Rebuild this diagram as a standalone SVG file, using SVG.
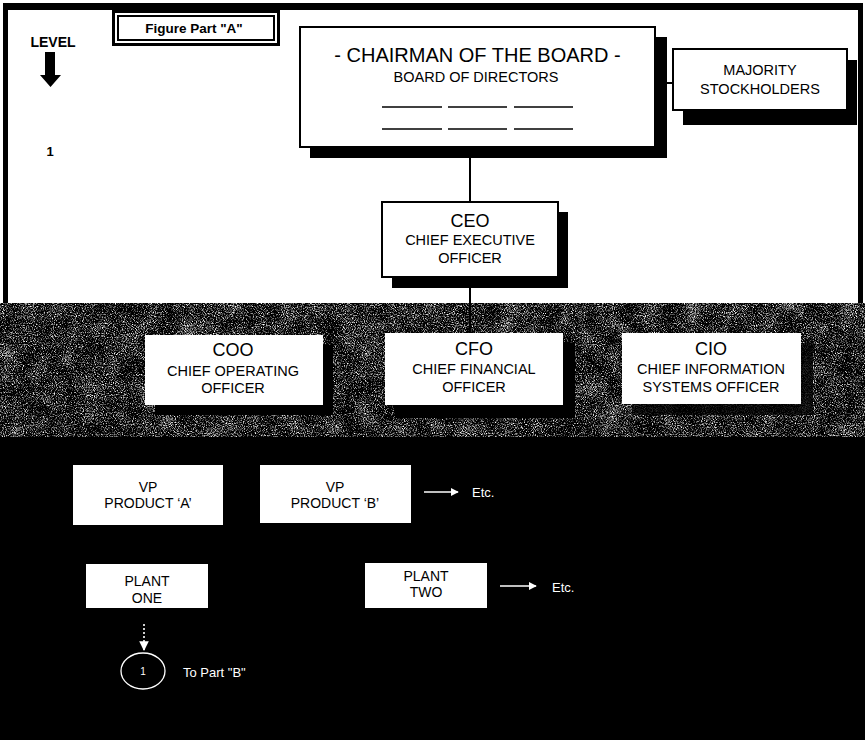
<svg xmlns="http://www.w3.org/2000/svg" width="865" height="740" viewBox="0 0 865 740">
  <defs>
    <style>
      .t{font-family:"Liberation Sans",Arial,Helvetica,sans-serif;fill:#000;text-anchor:middle}
      .w{fill:#fff}
      .box{fill:#fff;stroke:#000;stroke-width:2}
      .plain{fill:#fff}
      .shadow{fill:#000}
      .link{stroke:#000;stroke-width:2;fill:none}
      .wlink{stroke:#fff;stroke-width:1.6;fill:none}
      .big{font-size:18px}
      .mid{font-size:14.5px}
      .sm{font-size:14px}
      .etc{font-size:13px;fill:#fff;text-anchor:start}
      .bold{font-weight:bold}
    </style>
    <!-- halftone-like grain for the middle band -->
    <filter id="grain" x="0" y="0" width="1" height="1" filterUnits="objectBoundingBox" color-interpolation-filters="sRGB">
      <feTurbulence type="fractalNoise" baseFrequency="0.9" numOctaves="2" seed="7" result="fine"/>
      <feTurbulence type="fractalNoise" baseFrequency="0.05" numOctaves="2" seed="3" result="coarse"/>
      <feComposite in="fine" in2="coarse" operator="arithmetic" k1="0" k2="1" k3="0.25" k4="-0.125" result="mix"/>
      <feColorMatrix in="mix" type="matrix" values="1 0 0 0 0  1 0 0 0 0  1 0 0 0 0  0 0 0 0 1" result="gray"/>
      <feComponentTransfer in="gray">
        <feFuncR type="linear" slope="2.6" intercept="-0.86"/>
        <feFuncG type="linear" slope="2.6" intercept="-0.86"/>
        <feFuncB type="linear" slope="2.6" intercept="-0.86"/>
        <feFuncA type="linear" slope="0" intercept="1"/>
      </feComponentTransfer>
    </filter>
    <marker id="arrW" viewBox="0 0 10 10" refX="9" refY="5" markerWidth="5" markerHeight="5" orient="auto" markerUnits="strokeWidth">
      <path d="M0,0 L10,5 L0,10 Z" fill="#fff"/>
    </marker>
    <marker id="arrWs" viewBox="0 0 10 10" refX="9" refY="5" markerWidth="6" markerHeight="6" orient="auto" markerUnits="strokeWidth">
      <path d="M0,0 L10,5 L0,10 Z" fill="#fff"/>
    </marker>
  </defs>

  <!-- page background and bands -->
  <rect x="0" y="0" width="865" height="740" fill="#fff"/>
  <rect x="0" y="303" width="865" height="135" fill="#555"/>
  <rect x="0" y="303" width="865" height="135" fill="#777" filter="url(#grain)"/>
  <rect x="0" y="437" width="865" height="303" fill="#000"/>

  <!-- outer frame of the upper panel -->
  <rect x="3" y="3" width="860" height="7" fill="#000"/>
  <rect x="3" y="3" width="5" height="300" fill="#000"/>
  <rect x="858" y="3" width="5" height="300" fill="#000"/>

  <!-- level marker -->
  <g id="level">
    <text class="t bold" x="53" y="47" font-size="14">LEVEL</text>
    <polygon points="45,52 55,52 55,75 61,75 50.5,87 40,75 45,75" fill="#000"/>
    <text class="t bold" x="50" y="156" font-size="13">1</text>
  </g>

  <!-- title tag -->
  <g id="figure-part-a">
    <rect x="112" y="9" width="168" height="37" fill="#000"/>
    <rect x="115" y="13" width="162" height="30" fill="#fff"/>
    <rect x="118" y="16" width="156" height="24" fill="none" stroke="#000" stroke-width="2"/>
    <text class="t bold" x="194" y="33" font-size="13.5">Figure Part "A"</text>
  </g>

  <!-- connectors -->
  <g id="connectors">
    <line class="link" x1="470" y1="158" x2="470" y2="202"/>
    <line class="link" x1="470" y1="288" x2="470" y2="334"/>
    <line class="link" x1="665" y1="83" x2="673" y2="83"/>
    <line class="wlink" x1="424" y1="492" x2="458" y2="492" marker-end="url(#arrW)"/>
    <line class="wlink" x1="500" y1="586" x2="536" y2="586" marker-end="url(#arrW)"/>
    <line class="wlink" x1="144" y1="624" x2="144" y2="650" stroke-width="1.2" stroke-dasharray="2 2" marker-end="url(#arrWs)"/>
  </g>

  <!-- board -->
  <g id="chairman">
    <rect class="shadow" x="310" y="37" width="357" height="121"/>
    <rect class="box" x="300" y="27" width="355" height="120"/>
    <text class="t" x="477.5" y="62" font-size="20">- CHAIRMAN OF THE BOARD -</text>
    <text class="t mid" x="476" y="82">BOARD OF DIRECTORS</text>
    <g stroke="#000" stroke-width="1.5">
      <line x1="382" y1="107" x2="442" y2="107"/>
      <line x1="448" y1="107" x2="507" y2="107"/>
      <line x1="514" y1="107" x2="573" y2="107"/>
      <line x1="382" y1="129" x2="442" y2="129"/>
      <line x1="448" y1="129" x2="507" y2="129"/>
      <line x1="514" y1="129" x2="573" y2="129"/>
    </g>
  </g>

  <g id="majority-stockholders">
    <rect class="shadow" x="683" y="60" width="174" height="65"/>
    <rect class="box" x="673" y="49" width="174" height="61"/>
    <text class="t mid" x="760" y="75">MAJORITY</text>
    <text class="t mid" x="760" y="94">STOCKHOLDERS</text>
  </g>

  <g id="ceo">
    <rect class="shadow" x="392" y="212" width="176" height="76"/>
    <rect class="box" x="382" y="202" width="176" height="75"/>
    <text class="t big" x="470" y="227">CEO</text>
    <text class="t mid" x="470" y="245">CHIEF EXECUTIVE</text>
    <text class="t mid" x="470" y="263">OFFICER</text>
  </g>

  <!-- officers -->
  <g id="coo">
    <rect class="shadow" x="155" y="345" width="178" height="70"/>
    <rect class="plain" x="145" y="335" width="178" height="70"/>
    <text class="t big" x="233" y="356">COO</text>
    <text class="t mid" x="233" y="376">CHIEF OPERATING</text>
    <text class="t mid" x="233" y="393">OFFICER</text>
  </g>

  <g id="cfo">
    <rect class="shadow" x="395" y="343" width="180" height="75"/>
    <rect class="plain" x="385" y="333" width="178" height="72"/>
    <text class="t big" x="474" y="355">CFO</text>
    <text class="t mid" x="474" y="374">CHIEF FINANCIAL</text>
    <text class="t mid" x="474" y="392">OFFICER</text>
  </g>

  <g id="cio">
    <rect class="shadow" x="632" y="343" width="181" height="72" opacity="0.8"/>
    <rect class="plain" x="622" y="333" width="179" height="71"/>
    <text class="t big" x="711" y="355">CIO</text>
    <text class="t mid" x="711" y="374">CHIEF INFORMATION</text>
    <text class="t mid" x="711" y="392">SYSTEMS OFFICER</text>
  </g>

  <!-- product lines -->
  <g id="vp-a">
    <rect class="plain" x="73" y="465" width="150" height="60"/>
    <text class="t sm" x="148" y="492">VP</text>
    <text class="t sm" x="148" y="508">PRODUCT ‘A’</text>
  </g>

  <g id="vp-b">
    <rect class="plain" x="260" y="465" width="151" height="58"/>
    <text class="t sm" x="335" y="492">VP</text>
    <text class="t sm" x="335" y="508">PRODUCT ‘B’</text>
  </g>
  <text class="t etc" x="472" y="497">Etc.</text>

  <g id="plant-one">
    <rect class="plain" x="86" y="564" width="122" height="44"/>
    <text class="t sm" x="147" y="586">PLANT</text>
    <text class="t sm" x="147" y="603">ONE</text>
  </g>

  <g id="plant-two">
    <rect class="plain" x="365" y="563" width="122" height="45"/>
    <text class="t sm" x="426" y="581">PLANT</text>
    <text class="t sm" x="426" y="597">TWO</text>
  </g>
  <text class="t etc" x="552" y="592">Etc.</text>

  <g id="to-part-b">
    <ellipse cx="143" cy="671" rx="22" ry="18" fill="none" stroke="#fff" stroke-width="1.3"/>
    <text class="t w" x="143" y="675" font-size="10">1</text>
    <text class="t etc" x="183" y="677">To Part "B"</text>
  </g>
</svg>
